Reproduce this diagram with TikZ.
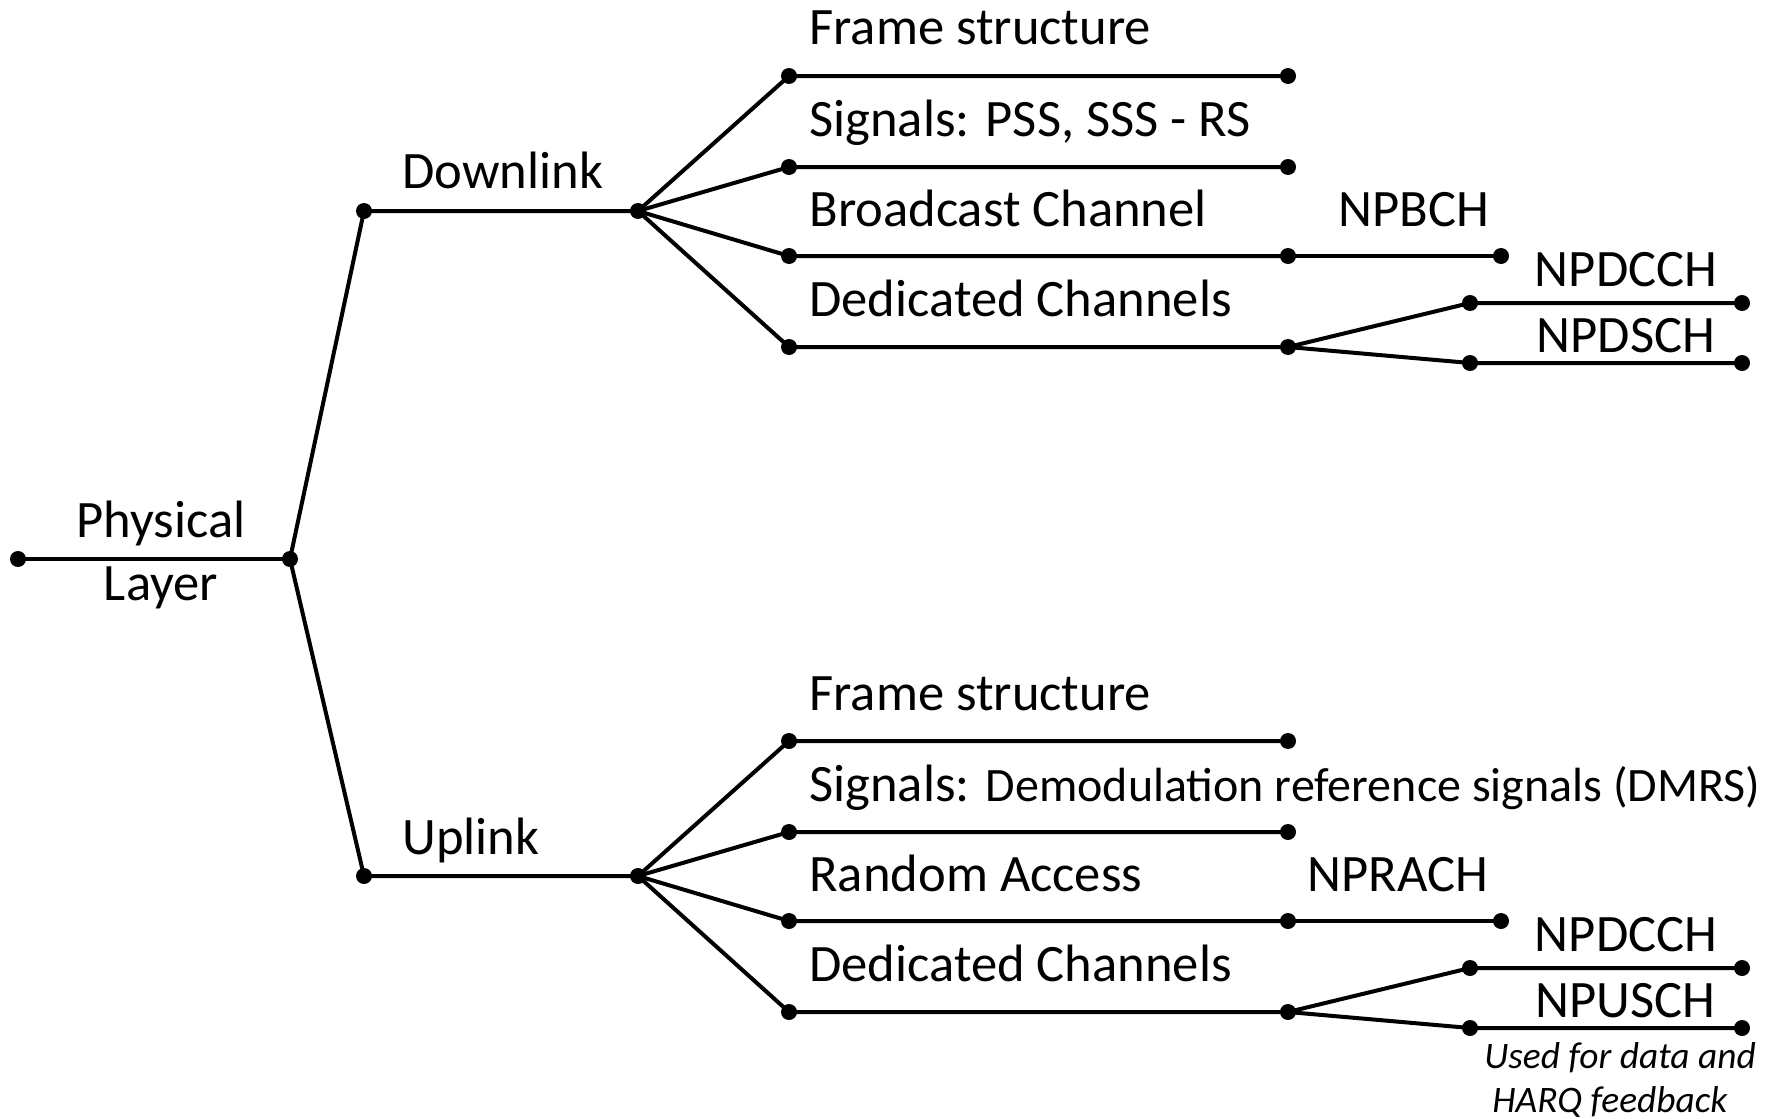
\documentclass[tikz,border=0pt]{standalone}
\usepackage{fontspec}
\setmainfont{Carlito}
\begin{document}
\begin{tikzpicture}[x=0.5pt,y=-0.5pt,
  dot/.style={circle,fill=black,inner sep=0pt,minimum size=8pt},
  conn/.style={line width=2pt},
  lbl/.style={inner sep=0pt,font=\fontsize{26.3}{31}\selectfont},
  lblw/.style={lbl,anchor=base west},
  lblc/.style={lbl,anchor=base},
  note/.style={inner sep=0pt,anchor=base west,font=\fontsize{18.7}{22}\selectfont\itshape}]
\useasboundingbox (0,0) rectangle (1779,1119);
% dots
\node[dot] (r0) at (18,559) {};
\node[dot] (r1) at (290,559) {};
\node[dot] (d0) at (364,211) {};
\node[dot] (d1) at (638,211) {};
\node[dot] (u0) at (364,876) {};
\node[dot] (u1) at (638,876) {};
\foreach \n/\y in {a/76,b/167,c/256,d/347}{
  \node[dot] (dl\n) at (789,\y) {};
  \node[dot] (dr\n) at (1288,\y) {};
}
\foreach \n/\y in {a/741,b/832,c/921,d/1012}{
  \node[dot] (ul\n) at (789,\y) {};
  \node[dot] (ur\n) at (1288,\y) {};
}
\node[dot] (dbch) at (1501,256) {};
\node[dot] (dcl) at (1470,303) {};
\node[dot] (dcr) at (1742,303) {};
\node[dot] (dsl) at (1470,363) {};
\node[dot] (dsr) at (1742,363) {};
\node[dot] (urach) at (1501,921) {};
\node[dot] (ucl) at (1470,968) {};
\node[dot] (ucr) at (1742,968) {};
\node[dot] (usl) at (1470,1028) {};
\node[dot] (usr) at (1742,1028) {};
% connectors
\draw[conn] (r0.center) -- (r1.center);
\draw[conn] (r1.center) -- (d0.center) -- (d1.center);
\draw[conn] (r1.center) -- (u0.center) -- (u1.center);
\foreach \n in {a,b,c,d}{
  \draw[conn] (d1.center) -- (dl\n.center) -- (dr\n.center);
  \draw[conn] (u1.center) -- (ul\n.center) -- (ur\n.center);
}
\draw[conn] (drc.center) -- (dbch.center);
\draw[conn] (drd.center) -- (dcl.center) -- (dcr.center);
\draw[conn] (drd.center) -- (dsl.center) -- (dsr.center);
\draw[conn] (urc.center) -- (urach.center);
\draw[conn] (urd.center) -- (ucl.center) -- (ucr.center);
\draw[conn] (urd.center) -- (usl.center) -- (usr.center);
% labels
\node[lblc] (tphy) at (161,537) {Physical};
\node[lblc] (tlay) at (161,600) {Layer};
\node[lblw] (tdl) at (402,188) {Downlink};
\node[lblw] (tul) at (402,854) {Uplink};
\node[lblw] (t1) at (809,45) {Frame structure};
\node[lblw] (t2) at (809,136) {Signals: PSS, SSS - RS};
\node[lblw] (t3) at (809,226) {Broadcast Channel};
\node[lblw] (t4) at (809,316) {Dedicated Channels};
\node[lblc] (tbch) at (1414,226) {NPBCH};
\node[lblc] (tdcc) at (1626,286) {NPDCCH};
\node[lblc] (tdsc) at (1626,352) {NPDSCH};
\node[lblw] (v1) at (809,710) {Frame structure};
\node[lblw] (v2) at (809,801) {Signals: {\fontsize{24}{28}\selectfont Demodulation reference signals (DMRS)}};
\node[lblw] (v3) at (809,891) {Random Access};
\node[lblw] (v4) at (809,981) {Dedicated Channels};
\node[lblc] (trach) at (1398,891) {NPRACH};
\node[lblc] (tucc) at (1626,951) {NPDCCH};
\node[lblc] (tusc) at (1625,1017) {NPUSCH};
\node[note] (tnote1) at (1484,1068) {Used for data and};
\node[note] (tnote2) at (1492,1112) {HARQ feedback};
\end{tikzpicture}
\end{document}
